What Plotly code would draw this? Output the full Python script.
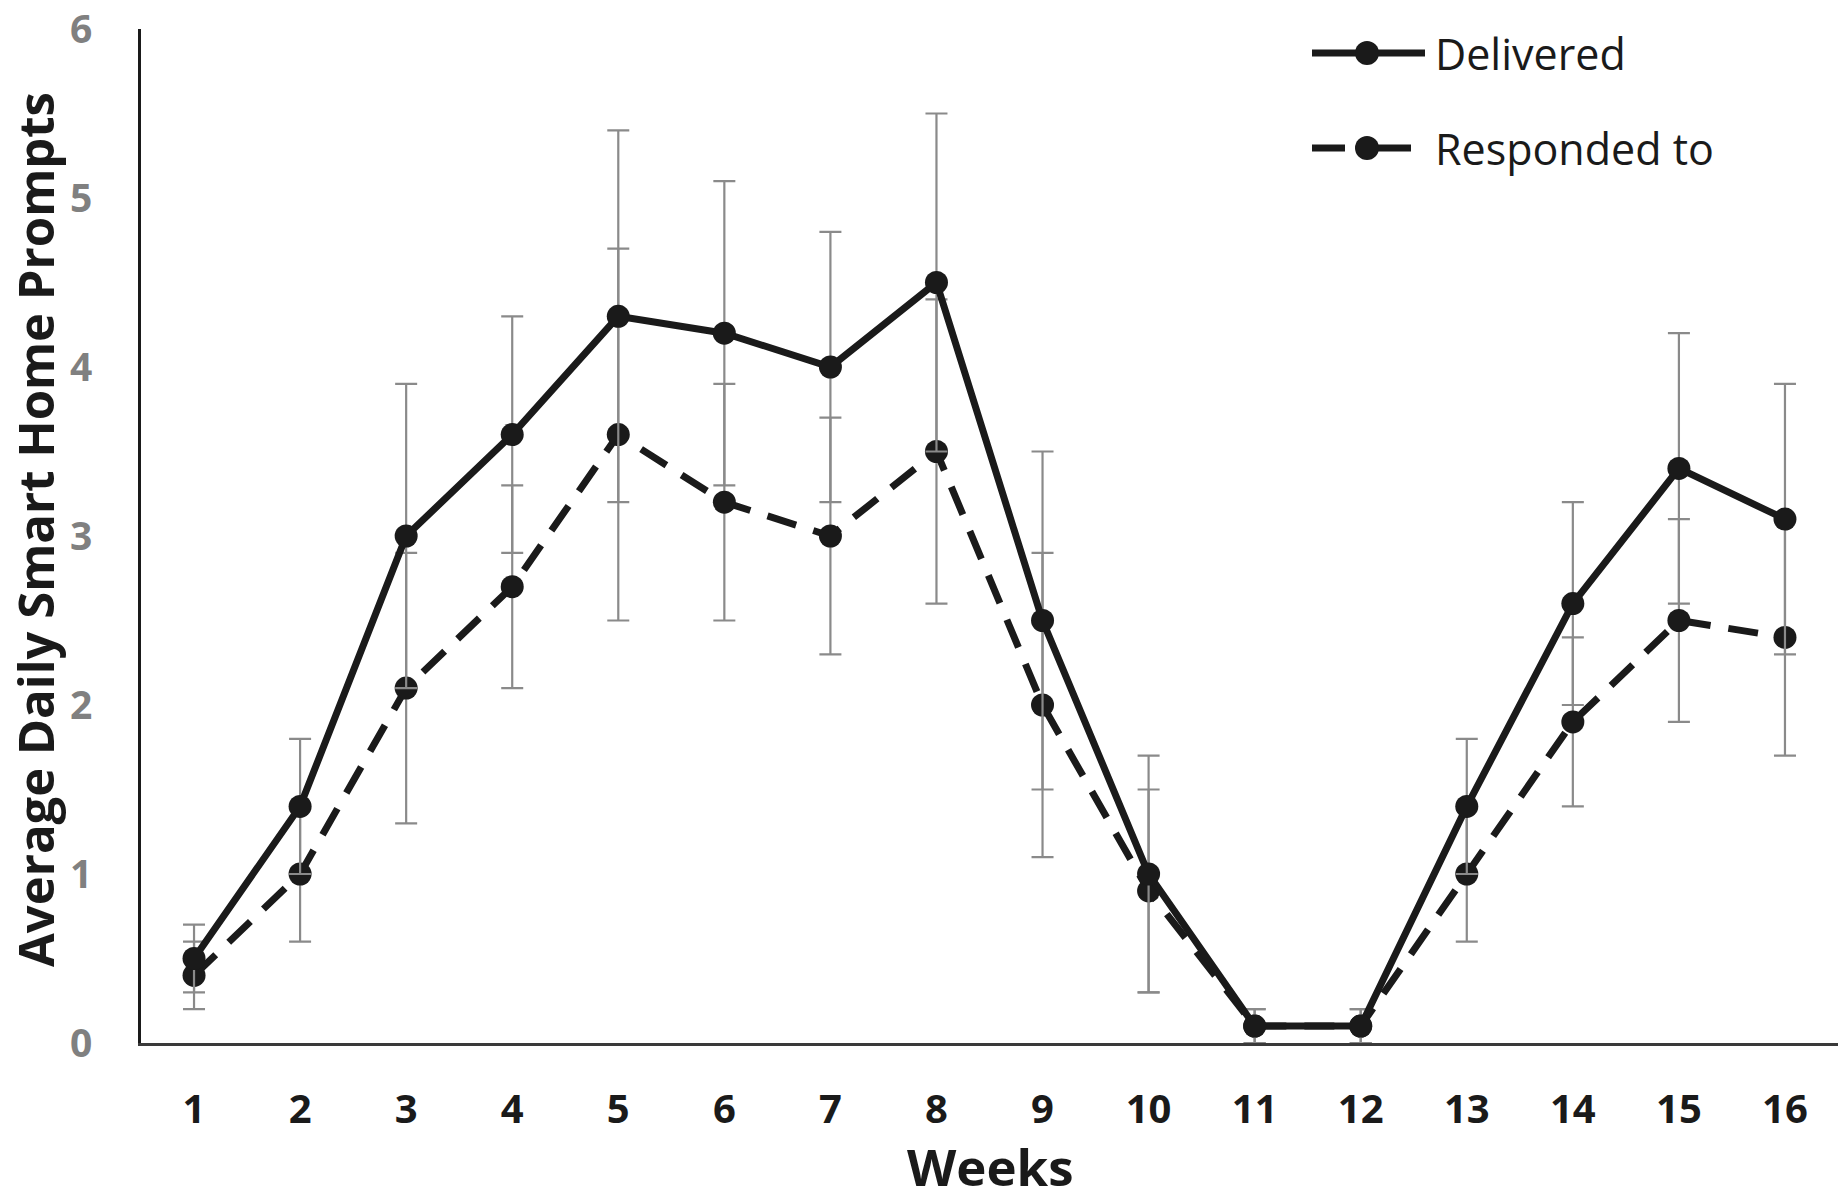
import plotly.graph_objects as go

weeks = list(range(1, 17))
delivered = [0.5, 1.4, 3.0, 3.6, 4.3, 4.2, 4.0, 4.5, 2.5, 1.0, 0.1, 0.1, 1.4, 2.6, 3.4, 3.1]
delivered_err = [0.2, 0.4, 0.9, 0.7, 1.1, 0.9, 0.8, 1.0, 1.0, 0.7, 0.1, 0.1, 0.4, 0.6, 0.8, 0.8]
responded = [0.4, 1.0, 2.1, 2.7, 3.6, 3.2, 3.0, 3.5, 2.0, 0.9, 0.1, 0.1, 1.0, 1.9, 2.5, 2.4]
responded_err = [0.2, 0.4, 0.8, 0.6, 1.1, 0.7, 0.7, 0.9, 0.9, 0.6, 0.1, 0.1, 0.4, 0.5, 0.6, 0.7]
y_ticks = [0, 1, 2, 3, 4, 5, 6]
series_names = ["Delivered", "Responded to"]

LINE = "#1a1a1a"
ERR = "#8a8a8a"
FONT = "Open Sans, Noto Sans, DejaVu Sans, sans-serif"
LW = 7
MS = 23
DASH = "30px,18px"

# figure geometry (pixels)
W, H = 1839, 1200
ML, MR, MT, MB = 141, 1, 29, 157
PW, PH = W - ML - MR, H - MT - MB


def px_x(px):
    return (px - ML) / PW


def px_y(py):
    return (H - MB - py) / PH


fig = go.Figure()
fig.add_trace(go.Scatter(
    x=weeks, y=responded, name=series_names[1], mode="lines+markers",
    line=dict(color=LINE, width=LW, dash=DASH),
    marker=dict(color=LINE, size=MS, symbol="circle"),
    error_y=dict(type="data", array=responded_err, color=ERR, thickness=2.2, width=11),
    showlegend=False,
))
fig.add_trace(go.Scatter(
    x=weeks, y=delivered, name=series_names[0], mode="lines+markers",
    line=dict(color=LINE, width=LW),
    marker=dict(color=LINE, size=MS, symbol="circle"),
    error_y=dict(type="data", array=delivered_err, color=ERR, thickness=2.2, width=11),
    showlegend=False,
))

# hand-drawn legend (long line samples like the original)
shapes = []
annotations = []
legend_rows = [(53, None, 1312, 1425), (148, "33px,33px", 1312, 1413)]
for name, (py, dash, x0, x1) in zip(series_names, legend_rows):
    shapes.append(dict(type="line", xref="paper", yref="paper",
                       x0=px_x(x0), x1=px_x(x1), y0=px_y(py), y1=px_y(py),
                       line=dict(color=LINE, width=LW, dash=dash or "solid")))
    r = 12
    shapes.append(dict(type="circle", xref="paper", yref="paper",
                       x0=px_x(1367 - r), x1=px_x(1367 + r),
                       y0=px_y(py + r), y1=px_y(py - r),
                       fillcolor=LINE, line=dict(color=LINE, width=0)))
    annotations.append(dict(text=name, xref="paper", yref="paper",
                            x=px_x(1433), y=px_y(py), xanchor="left", yanchor="middle",
                            showarrow=False,
                            font=dict(family=FONT, size=43, color=LINE)))

# axis titles
annotations.append(dict(text="<b>Weeks</b>", xref="paper", yref="paper",
                        x=px_x(990), y=px_y(1166), xanchor="center", yanchor="middle",
                        showarrow=False, font=dict(family=FONT, size=51, color=LINE)))
annotations.append(dict(text="<b>Average Daily Smart Home Prompts</b>", xref="paper", yref="paper",
                        x=px_x(35), y=px_y(530), xanchor="center", yanchor="middle",
                        textangle=-90, showarrow=False,
                        font=dict(family=FONT, size=49, color=LINE)))

fig.update_layout(
    width=W, height=H,
    margin=dict(l=ML, r=MR, t=MT, b=MB, autoexpand=False),
    paper_bgcolor="white", plot_bgcolor="white",
    font=dict(family=FONT, color=LINE),
    showlegend=False,
    shapes=shapes,
    annotations=annotations,
)
fig.update_xaxes(
    range=[0.5, 16.5], tickmode="array", tickvals=weeks,
    ticktext=[str(w) for w in weeks],
    tickfont=dict(family=FONT, size=40, color=LINE, weight="bold"),
    showline=True, linecolor="#3a3a3a", linewidth=3,
    showgrid=False, zeroline=False, ticks="", ticklabelstandoff=29,
)
fig.update_yaxes(
    range=[0, 6], tickmode="array", tickvals=y_ticks,
    tickfont=dict(family=FONT, size=39, color="#808080", weight="bold"),
    showline=True, linecolor=LINE, linewidth=3,
    showgrid=False, zeroline=False, ticks="", ticklabelstandoff=38,
    ticklabeloverflow="allow",
)

fig.write_html("out.html", config={"displayModeBar": False},
               post_script="document.body.style.margin='0';")
